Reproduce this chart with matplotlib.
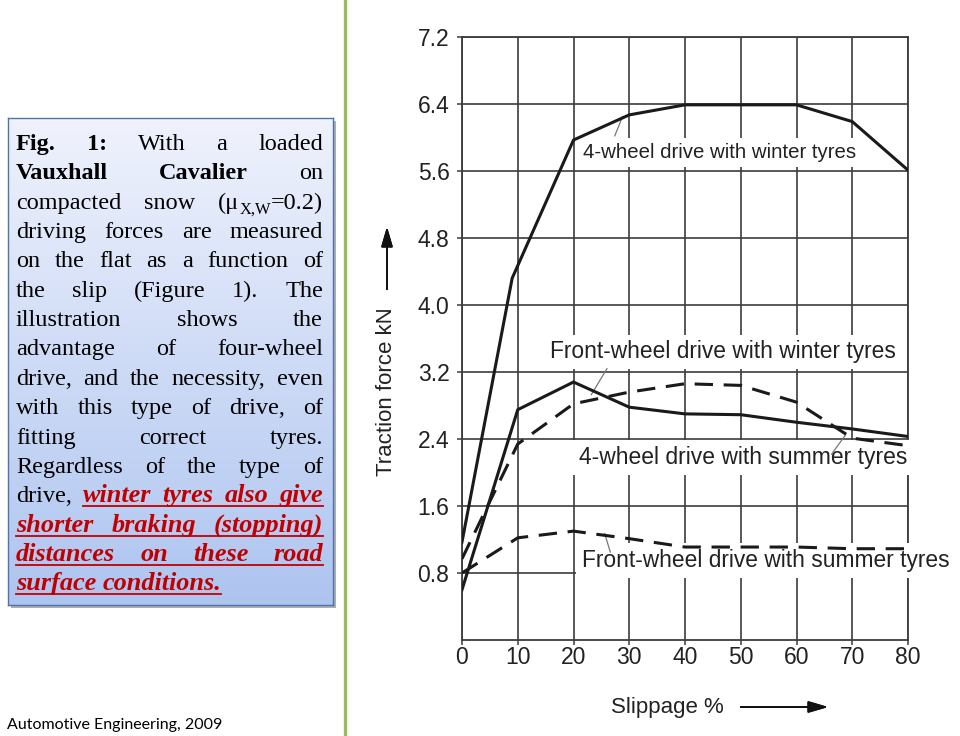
import numpy as np
import matplotlib
matplotlib.use("Agg")
import matplotlib.pyplot as plt
from matplotlib.patches import Rectangle
from matplotlib.lines import Line2D

# data (slip % vs traction force kN)
slip = [0, 10, 20, 30, 40, 50, 60, 70, 80]
slip_4wd_winter = [0, 9, 20, 30, 40, 50, 60, 70, 80]
awd_winter = [1.17, 4.32, 5.97, 6.27, 6.39, 6.39, 6.39, 6.19, 5.61]
fwd_winter = [0.60, 2.75, 3.08, 2.78, 2.70, 2.69, 2.60, 2.52, 2.43]
awd_summer = [0.97, 2.34, 2.82, 2.96, 3.06, 3.04, 2.84, 2.41, 2.32]
fwd_summer = [0.80, 1.22, 1.30, 1.21, 1.11, 1.11, 1.11, 1.09, 1.09]

curve_labels = ["4-wheel drive with winter tyres",
                "Front-wheel drive with winter tyres",
                "4-wheel drive with summer tyres",
                "Front-wheel drive with summer tyres"]
x_ticks = [0, 10, 20, 30, 40, 50, 60, 70, 80]
y_ticks = [0.8, 1.6, 2.4, 3.2, 4.0, 4.8, 5.6, 6.4, 7.2]

# paragraph: *word = bold, !word = red bold italic underlined
para = [
    "*Fig. *1: With a loaded",
    "*Vauxhall *Cavalier on",
    "compacted snow (μ_{X,W}=0.2)",
    "driving forces are measured",
    "on the flat as a function of",
    "the slip (Figure 1). The",
    "illustration shows the",
    "advantage of four-wheel",
    "drive, and the necessity, even",
    "with this type of drive, of",
    "fitting correct tyres.",
    "Regardless of the type of",
    "drive, !winter !tyres !also !give",
    "!shorter !braking !(stopping)",
    "!distances !on !these !road",
    "!surface !conditions.",
]

W, H = 960, 736
fig = plt.figure(figsize=(W / 100, H / 100), dpi=100)
fig.patch.set_facecolor("white")


def fx(x):
    return x / W


def fy(y):
    return 1 - y / H


# green divider
fig.add_artist(Line2D([fx(345), fx(345)], [0, 1], color="#9bbb59", lw=2.4))

# text box with gradient and a soft shadow
bx0, by0, bx1, by1 = 8, 118, 333, 605
fig.add_artist(Rectangle((fx(bx0 + 3), fy(by1 + 3)), fx(bx1 - bx0), (by1 - by0) / H,
                         transform=fig.transFigure, fc="#8c8c8c", ec="none", alpha=0.7,
                         zorder=-5))
bax = fig.add_axes([fx(bx0), fy(by1), fx(bx1 - bx0), (by1 - by0) / H])
top = np.array([0.94, 0.95, 0.99])
bot = np.array([0.68, 0.77, 0.94])
t = np.linspace(0, 1, 256)[:, None]
grad = top[None, :] * (1 - t) + bot[None, :] * t
bax.imshow(grad[:, None, :], aspect="auto", extent=[0, 1, 0, 1])
bax.set_xticks([])
bax.set_yticks([])
for s in bax.spines.values():
    s.set_color("#4f73ad")
    s.set_linewidth(1.0)

# justified paragraph
renderer = fig.canvas.get_renderer()
left, right = 16, 323
fs = 17.5
base0, step = 150, 29.35
red = "#c00000"

for i, line in enumerate(para):
    yb = base0 + i * step
    words = []
    for w in line.split(" "):
        style = "n"
        if w.startswith("*"):
            style, w = "b", w[1:]
        elif w.startswith("!"):
            style, w = "r", w[1:]
        if "_{" in w:
            a, rest = w.split("_{")
            sub, c = rest.split("}")
            segs = [(a, style, False), (sub, style, True), (c, style, False)]
        else:
            segs = [(w, style, False)]
        objs = []
        for txt, st, is_sub in segs:
            kw = dict(family=["Liberation Serif", "DejaVu Serif"],
                      fontsize=fs * 0.68 if is_sub else fs, color="black",
                      va="baseline", ha="left", transform=fig.transFigure)
            if st == "b":
                kw["fontweight"] = "bold"
            if st == "r":
                kw.update(fontweight="bold", fontstyle="italic", color=red,
                          fontsize=fs * 1.08)
            o = fig.text(0, 0, txt, **kw)
            objs.append((o, is_sub))
        wds = [o.get_window_extent(renderer).width for o, _ in objs]
        words.append((objs, wds, style))
    total = sum(sum(w[1]) for w in words)
    last = i == len(para) - 1
    gap = fs * 1.389 * 0.25 if (last or len(words) == 1) else (right - left - total) / (len(words) - 1)
    x = left
    red_start, red_end = None, None
    for objs, wds, style in words:
        if style == "r" and red_start is None:
            red_start = x
        xx = x
        for (o, is_sub), wd in zip(objs, wds):
            o.set_position((fx(xx), fy(yb + (5 if is_sub else 0))))
            xx += wd
        if style == "r":
            red_end = xx
        x = xx + gap
    if red_start is not None:
        fig.add_artist(Line2D([fx(red_start), fx(red_end)], [fy(yb + 4), fy(yb + 4)],
                              color=red, lw=1.3))

# footer
fig.text(fx(7), fy(725), "Automotive Engineering, 2009", fontsize=11.5,
         family=["Lato", "DejaVu Sans"], va="center", ha="left", color="black")

# chart
sans = ["Liberation Sans", "DejaVu Sans"]
ink = "#222222"
ax = fig.add_axes([fx(462), fy(640), fx(908 - 462), (640 - 37) / H])
ax.set_xlim(0, 80)
ax.set_ylim(0, 7.2)
ax.set_xticks(x_ticks)
ax.set_yticks(y_ticks)
ax.set_xticklabels([str(v) for v in x_ticks])
ax.set_yticklabels([f"{v:.1f}" for v in y_ticks])
ax.grid(True, color="#3c3c3c", lw=1.2, zorder=1)
ax.set_axisbelow(True)
for s in ax.spines.values():
    s.set_color("#3c3c3c")
    s.set_linewidth(1.3)
ax.tick_params(direction="out", length=3.5, width=1.1, color="#3c3c3c",
               labelsize=16.5, labelcolor=ink)
ax.tick_params(axis="y", pad=5.5)
ax.tick_params(axis="x", pad=1)
for lab in ax.get_xticklabels() + ax.get_yticklabels():
    lab.set_family(sans)

lw = 2.2
ax.plot(slip_4wd_winter, awd_winter, color="#1a1a1a", lw=lw, zorder=5)
ax.plot(slip, fwd_winter, color="#1a1a1a", lw=lw, zorder=5)
ax.plot(slip, awd_summer, color="#1a1a1a", lw=lw, dashes=(6, 3.5), zorder=5)
ax.plot(slip, fwd_summer, color="#1a1a1a", lw=lw, dashes=(6, 3.5), zorder=5)

# inline labels with leader lines
label_pos = [(21.7, 5.82), (15.7, 3.44), (20.9, 2.18), (21.5, 0.95)]
label_size = [14.7, 16.4, 16.5, 16.4]
leaders = [((27.4, 6.02), (28.8, 6.25)),
           ((26.0, 3.24), (23.2, 2.93)),
           ((66.3, 2.22), (68.7, 2.44)),
           ((26.6, 1.05), (25.6, 1.27))]
for txt, (lx, ly), sz, (p0, p1) in zip(curve_labels, label_pos, label_size, leaders):
    ax.text(lx, ly, txt, fontsize=sz, family=sans, color=ink, ha="left", va="center",
            zorder=3, clip_on=False,
            bbox=dict(boxstyle="square,pad=0.25", fc="white", ec="none"))
    ax.plot([p0[0], p1[0]], [p0[1], p1[1]], color="#777777", lw=0.9, zorder=4)

# axis titles with arrows
fig.text(fx(387), fy(392), "Traction force kN", rotation=90, fontsize=16, family=sans,
         color=ink, ha="center", va="center")
fig.add_artist(plt.annotate("", xy=(387, H - 224), xytext=(387, H - 292), xycoords="figure pixels",
                            arrowprops=dict(arrowstyle="-|>,head_length=1.2,head_width=0.35",
                                            color="#111111", lw=1.3)))
fig.text(fx(667), fy(707), "Slippage %", fontsize=16, family=sans, color=ink,
         ha="center", va="center")
fig.add_artist(plt.annotate("", xy=(831, H - 707), xytext=(738, H - 707), xycoords="figure pixels",
                            arrowprops=dict(arrowstyle="-|>,head_length=1.2,head_width=0.35",
                                            color="#111111", lw=1.3)))

fig.savefig("out.png", dpi=100)
